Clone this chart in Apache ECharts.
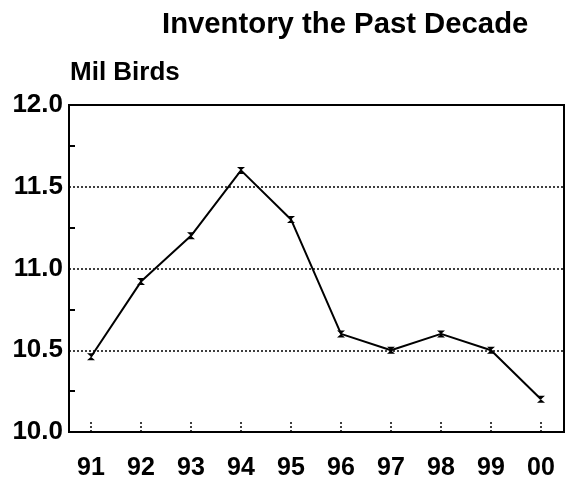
<!DOCTYPE html>
<html>
<head>
<meta charset="utf-8">
<script src="https://cdn.jsdelivr.net/npm/echarts@6/dist/echarts.min.js"></script>
<style>
html,body{margin:0;padding:0;background:#fff;}
#chart{width:572px;height:481px;}
</style>
</head>
<body>
<div id="chart"></div>
<script>
var categories = ['91','92','93','94','95','96','97','98','99','00'];
var inventory = [10.46, 10.92, 11.2, 11.6, 11.3, 10.6, 10.5, 10.6, 10.5, 10.2];
var yMinorTicks = [10.25, 10.75, 11.25, 11.75];
var titleText = 'Inventory the Past Decade';
var unitText = 'Mil Birds';

var FONT = '"Liberation Sans", Arial, Helvetica, sans-serif';
var xIdx = categories.map(function(c, i){ return i; });

var chart = echarts.init(document.getElementById('chart'));
chart.setOption({
  animation: false,
  backgroundColor: '#fff',
  title: {
    text: titleText,
    left: 162,
    top: 10,
    padding: 0,
    textStyle: {fontFamily: FONT, fontWeight: 'bold', fontSize: 29.3, color: '#000'}
  },
  grid: {
    left: 69, right: 8, top: 105, bottom: 48,
    show: true, borderColor: '#000', borderWidth: 2, backgroundColor: 'transparent'
  },
  xAxis: {
    type: 'value',
    min: -0.44, max: 9.46,
    axisLine: {show: true, onZero: false, lineStyle: {color: '#000', width: 2}},
    splitLine: {show: false},
    axisTick: {
      show: true, inside: true, length: 10,
      customValues: xIdx,
      lineStyle: {color: '#000', width: 1.5, type: [2, 2]}
    },
    axisLabel: {
      customValues: xIdx,
      margin: 24,
      fontFamily: FONT, fontWeight: 'bold', fontSize: 25, color: '#000',
      formatter: function(v){ return categories[Math.round(v)]; }
    }
  },
  yAxis: [{
    type: 'value',
    position: 'left',
    min: 10, max: 12, interval: 0.5,
    name: unitText,
    nameLocation: 'end',
    nameGap: 19,
    nameTextStyle: {fontFamily: FONT, fontWeight: 'bold', fontSize: 26, color: '#000', align: 'left', padding: [0, 0, 0, 1]},
    axisLine: {show: true, onZero: false, lineStyle: {color: '#000', width: 2}},
    axisTick: {show: false},
    axisLabel: {
      margin: 6,
      fontFamily: FONT, fontWeight: 'bold', fontSize: 26, color: '#000',
      formatter: function(v){ return v.toFixed(1); }
    },
    splitLine: {show: true, lineStyle: {color: '#000', width: 1.5, type: [2, 2]}}
  }, {
    type: 'value',
    position: 'left',
    offset: 0,
    min: 10, max: 12,
    axisLine: {show: false, onZero: false},
    axisLabel: {show: false},
    splitLine: {show: false},
    axisTick: {
      show: true, inside: true, length: 6,
      customValues: yMinorTicks,
      lineStyle: {color: '#000', width: 2}
    }
  }],
  series: [{
    type: 'line',
    yAxisIndex: 0,
    data: inventory.map(function(v, i){ return [i, v]; }),
    lineStyle: {color: '#000', width: 2},
    itemStyle: {color: '#000'},
    symbol: 'path://M0,0L10,0L0,10L10,10Z',
    symbolSize: [8, 7],
    showSymbol: true
  }]
});
</script>
</body>
</html>
